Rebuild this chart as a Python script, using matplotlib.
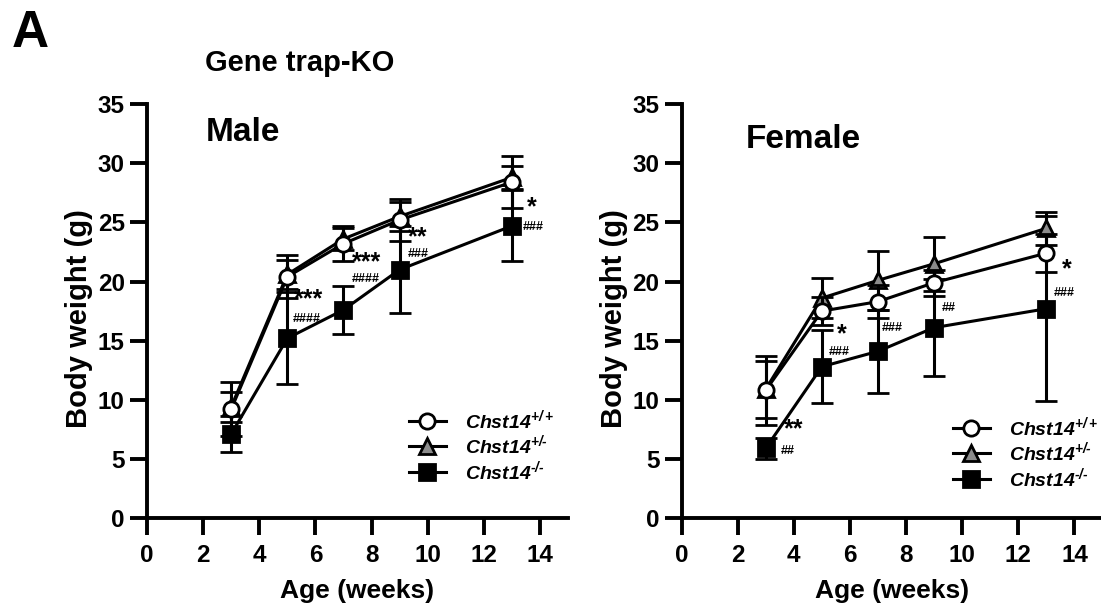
import matplotlib
matplotlib.use('Agg')
import matplotlib.pyplot as plt
from matplotlib.lines import Line2D

plt.rcParams['font.family'] = ['Liberation Sans', 'DejaVu Sans']
plt.rcParams['font.weight'] = 'bold'
plt.rcParams['mathtext.fontset'] = 'custom'
plt.rcParams['mathtext.it'] = 'Liberation Sans:bold:italic'
plt.rcParams['mathtext.rm'] = 'Liberation Sans:bold:italic'
plt.rcParams['mathtext.bf'] = 'Liberation Sans:bold:italic'

weeks = [3, 5, 7, 9, 13]

# male body weight (g), mean and SD
male_wt = [9.2, 20.4, 23.2, 25.2, 28.4]
male_wt_sd = [2.3, 1.8, 1.5, 1.8, 2.2]
male_het = [9.4, 20.6, 23.6, 25.5, 28.8]
male_het_sd = [1.3, 1.2, 0.9, 1.2, 1.0]
male_ko = [7.1, 15.2, 17.6, 21.0, 24.7]
male_ko_sd = [1.5, 3.9, 2.0, 3.7, 3.0]

# female body weight (g), mean and SD
female_wt = [10.8, 17.5, 18.3, 19.9, 22.4]
female_wt_sd = [2.9, 1.2, 1.4, 1.1, 1.6]
female_het = [10.9, 18.6, 20.1, 21.5, 24.5]
female_het_sd = [2.4, 1.7, 2.5, 2.3, 1.4]
female_ko = [5.9, 12.8, 14.1, 16.1, 17.7]
female_ko_sd = [0.9, 3.1, 3.5, 4.1, 7.8]

labels = ['$Chst14^{+/+}$', '$Chst14^{+/\u2010}$', '$Chst14^{\u2010/\u2010}$']

# significance marks: (x, y, text) for stars and hashes
male_stars = [(5.25, 18.5, '***'), (7.3, 21.6, '***'), (9.3, 23.7, '**'), (13.55, 26.3, '*')]
male_hash = [(5.2, 16.8, '####'), (7.3, 20.2, '####'), (9.3, 22.3, '###'), (13.4, 24.6, '###')]
female_stars = [(3.65, 7.5, '**'), (5.55, 15.5, '*'), (13.55, 21.0, '*')]
female_hash = [(3.55, 5.7, '##'), (5.25, 14.0, '###'), (7.15, 16.1, '###'),
               (9.27, 17.8, '##'), (13.25, 19.0, '###')]

fig = plt.figure(figsize=(11.01, 6.16), dpi=100)
ax_m = fig.add_axes([0.1335, 0.159, 0.3824, 0.672])
ax_f = fig.add_axes([0.619, 0.159, 0.3824, 0.672])


def draw(ax, wt, wt_sd, het, het_sd, ko, ko_sd, stars, hashes, title, tx, ty, leg_anchor):
    common = dict(color='black', lw=2.2, elinewidth=2.2, capsize=8, capthick=2.2,
                  markeredgecolor='black', markeredgewidth=2)
    ax.errorbar(weeks, ko, yerr=ko_sd, marker='s', markersize=12,
                markerfacecolor='black', zorder=3, **common)
    ax.errorbar(weeks, het, yerr=het_sd, marker='^', markersize=12,
                markerfacecolor='#8c8c8c', zorder=4, **common)
    ax.errorbar(weeks, wt, yerr=wt_sd, marker='o', markersize=11,
                markerfacecolor='white', zorder=5, **common)

    for x, y, s in stars:
        ax.text(x, y, s, fontsize=18, ha='left', va='center')
    for x, y, s in hashes:
        ax.text(x, y, s, fontsize=9, ha='left', va='center')

    ax.set_xlim(0, 15)
    ax.set_ylim(0, 35)
    ax.set_xticks(range(0, 16, 2))
    ax.set_yticks(range(0, 36, 5))
    for side in ['top', 'right']:
        ax.spines[side].set_visible(False)
    for side in ['left', 'bottom']:
        ax.spines[side].set_linewidth(2.8)
    ax.tick_params(width=2.8, length=12, labelsize=17.5, direction='out')
    ax.tick_params(axis='x', pad=7)
    ax.tick_params(axis='y', pad=4)
    ax.set_xlabel('Age (weeks)', fontsize=19, fontweight='bold')
    ax.set_ylabel('Body weight (g)', fontsize=21, fontweight='bold')
    ax.xaxis.set_label_coords(0.499, -0.148)
    ax.yaxis.set_label_coords(-0.128, 0.483)
    ax.text(tx, ty, title, fontsize=24, fontweight='bold', ha='left', va='center')

    handles = [
        Line2D([], [], color='black', lw=2.2, marker='o', markersize=11,
               markerfacecolor='white', markeredgecolor='black', markeredgewidth=2),
        Line2D([], [], color='black', lw=2.2, marker='^', markersize=12,
               markerfacecolor='#8c8c8c', markeredgecolor='black', markeredgewidth=2),
        Line2D([], [], color='black', lw=2.2, marker='s', markersize=12,
               markerfacecolor='black', markeredgecolor='black', markeredgewidth=2),
    ]
    ax.legend(handles, labels, loc='center left', bbox_to_anchor=leg_anchor,
              frameon=False, fontsize=14, handlelength=1.9, handletextpad=1.0,
              labelspacing=0.08, borderpad=0, borderaxespad=0)


draw(ax_m, male_wt, male_wt_sd, male_het, male_het_sd, male_ko, male_ko_sd,
     male_stars, male_hash, 'Male', 2.1, 32.6, (0.622, 0.176))
draw(ax_f, female_wt, female_wt_sd, female_het, female_het_sd, female_ko, female_ko_sd,
     female_stars, female_hash, 'Female', 2.3, 32.0, (0.644, 0.159))

fig.text(0.011, 0.946, 'A', fontsize=37, fontweight='bold', ha='left', va='center')
fig.text(0.186, 0.897, 'Gene trap-KO', fontsize=21, fontweight='bold', ha='left', va='center')

fig.savefig('out.png', dpi=100)
